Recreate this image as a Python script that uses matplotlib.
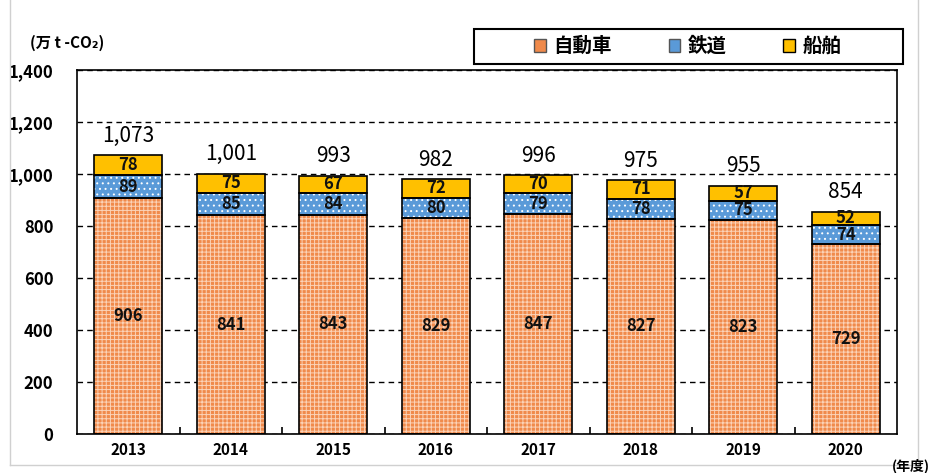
import matplotlib
matplotlib.use('Agg')
import matplotlib.pyplot as plt
import matplotlib.patches as mpatches
import numpy as np

# ── DATA ────────────────────────────────────────────────────────────────────
years = ['2013', '2014', '2015', '2016', '2017', '2018', '2019', '2020']
car   = [906, 841, 843, 829, 847, 827, 823, 729]
rail  = [89, 85, 84, 80, 79, 78, 75, 74]
ship  = [78, 75, 67, 72, 70, 71, 57, 52]
total = [1073, 1001, 993, 982, 996, 975, 955, 854]
series_names = ['自動車', '鉄道', '船舶']

# ── STYLE ───────────────────────────────────────────────────────────────────
ORANGE = '#F08A4B'
BLUE   = '#5A9AD8'
YELLOW = '#FFC000'

plt.rcParams['font.family'] = ['Noto Sans CJK JP', 'DejaVu Sans']
plt.rcParams['hatch.linewidth'] = 0.7

W, H = 931, 473
fig = plt.figure(figsize=(W / 100, H / 100), dpi=100)
ax = fig.add_axes([77 / W, 1 - 434 / H, (897 - 77) / W, (434 - 70) / H])

x = np.arange(len(years))
bw = 0.66
bottom_rail = np.array(car)
bottom_ship = bottom_rail + np.array(rail)

# hatched fills (white pattern), then black outlines on top
ax.bar(x, car, bw, color=ORANGE, edgecolor='#FBD3B8', hatch='++++', linewidth=0, zorder=2)
ax.bar(x, rail, bw, bottom=bottom_rail, color=BLUE, edgecolor='white', hatch='...', linewidth=0, zorder=2)
ax.bar(x, ship, bw, bottom=bottom_ship, color=YELLOW, linewidth=0, zorder=2)
for vals, bot in [(car, 0), (rail, bottom_rail), (ship, bottom_ship)]:
    ax.bar(x, vals, bw, bottom=bot, fill=False, edgecolor='black', linewidth=1.2, zorder=3)

# segment labels
lab = dict(ha='center', va='center', fontsize=12, fontweight='bold', color='#111111', zorder=4)
for i in range(len(years)):
    ax.text(x[i], car[i] / 2, str(car[i]), **lab)
    ax.text(x[i], bottom_rail[i] + rail[i] / 2, str(rail[i]), **lab)
    ax.text(x[i], bottom_ship[i] + ship[i] / 2, str(ship[i]), **lab)
    top = car[i] + rail[i] + ship[i]
    ax.annotate(f'{total[i]:,}', xy=(x[i], top), xytext=(0, 6), textcoords='offset points',
                ha='center', va='bottom', fontsize=15, zorder=4)

# ── AXES ────────────────────────────────────────────────────────────────────
ax.set_xlim(-0.5, len(years) - 0.5)
ax.set_ylim(0, 1400)
ax.set_yticks(np.arange(0, 1401, 200))
ax.set_yticklabels([f'{v:,}' for v in range(0, 1401, 200)], fontsize=12, fontweight='bold')
ax.set_xticks(x)
ax.set_xticklabels(years, fontsize=11, fontweight='bold')
ax.set_xticks(np.arange(0.5, len(years) - 1, 1), minor=True)
ax.tick_params(axis='y', length=0, pad=17)
ax.tick_params(axis='x', which='major', length=0, pad=6)
ax.tick_params(axis='x', which='minor', direction='in', length=5, width=1.2)
for s in ax.spines.values():
    s.set_linewidth(1.2)
    s.set_color('black')
ax.yaxis.grid(True, color='black', linestyle=(0, (4, 3)), linewidth=1.0, zorder=0)
ax.set_axisbelow(True)

# ── LEGEND ──────────────────────────────────────────────────────────────────
fig.add_artist(mpatches.Rectangle((474 / W, 1 - 64 / H), 429 / W, 35 / H,
                                  transform=fig.transFigure, fill=False,
                                  edgecolor='black', linewidth=1.5))
handles = [
    mpatches.Patch(facecolor=ORANGE, edgecolor='#555555', label=series_names[0]),
    mpatches.Patch(facecolor=BLUE, edgecolor='#555555', label=series_names[1]),
    mpatches.Patch(facecolor=YELLOW, edgecolor='black', label=series_names[2]),
]
fig.legend(handles=handles, ncol=3, loc='center',
           bbox_to_anchor=(688 / W, 1 - 46.5 / H),
           prop={'size': 14, 'weight': 'bold'}, frameon=False,
           handlelength=0.6, handleheight=0.6, handletextpad=0.4,
           columnspacing=2.9, borderpad=0.2)

# ── TEXTS ───────────────────────────────────────────────────────────────────
fig.text(30 / W, 1 - 43 / H, '(万 t -CO₂)', fontsize=11, fontweight='bold', ha='left', va='center')
fig.text(930 / W, 1 - 466 / H, '(年度)', fontsize=10, fontweight='bold', ha='right', va='center')

# thin gray frame
for xs, ys in [([10, 10], [0, 465]), ([10, 918], [465, 465]), ([918, 918], [0, 465])]:
    fig.add_artist(plt.Line2D([v / W for v in xs], [1 - v / H for v in ys],
                              transform=fig.transFigure, color='#D0D0D0', linewidth=1))

plt.savefig('out.png', dpi=100)
